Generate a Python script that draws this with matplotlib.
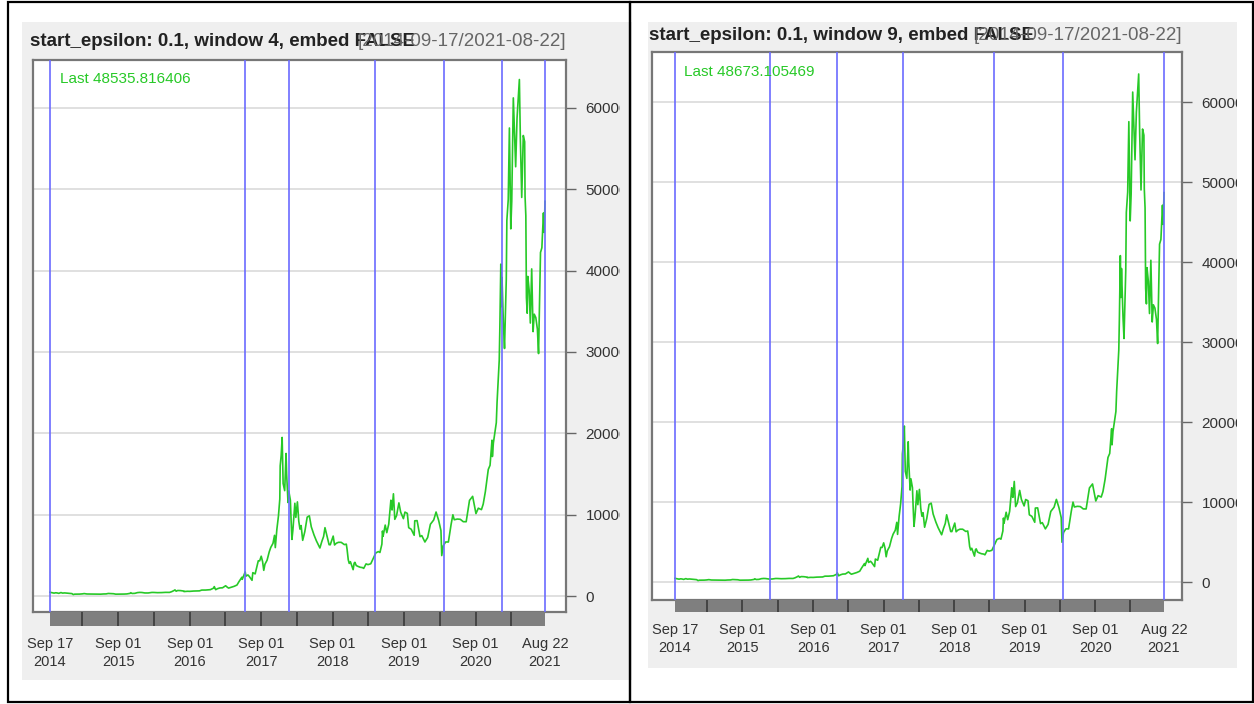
import pandas as pd
import matplotlib
matplotlib.use("Agg")
import matplotlib.pyplot as plt
import matplotlib.dates as mdates
from matplotlib.patches import Rectangle
from matplotlib.transforms import Bbox

plt.rcParams['font.family'] = ['Liberation Sans', 'DejaVu Sans']

# BTC-USD close (approximate)
price_dates = [
    "2014-09-17", "2014-09-24", "2014-10-01", "2014-10-08", "2014-10-15", "2014-10-22", "2014-11-01", "2014-11-12",
    "2014-11-20", "2014-12-01", "2014-12-15", "2014-12-31",
    "2015-01-07", "2015-01-14", "2015-01-21", "2015-02-01", "2015-02-15", "2015-03-01", "2015-03-11", "2015-03-25",
    "2015-04-08", "2015-04-22", "2015-05-06", "2015-05-20", "2015-06-03", "2015-06-17", "2015-07-01", "2015-07-12",
    "2015-07-25", "2015-08-08", "2015-08-19", "2015-09-01", "2015-09-15", "2015-10-01", "2015-10-15", "2015-11-01",
    "2015-11-04", "2015-11-11", "2015-11-25", "2015-12-08", "2015-12-20", "2015-12-31",
    "2016-01-15", "2016-02-01", "2016-02-20", "2016-03-01", "2016-03-20", "2016-04-10", "2016-04-30", "2016-05-20",
    "2016-05-31", "2016-06-12", "2016-06-17", "2016-06-23", "2016-07-01", "2016-07-15", "2016-08-01", "2016-08-02",
    "2016-08-20", "2016-09-01", "2016-09-20", "2016-10-01", "2016-10-20", "2016-11-01", "2016-11-20", "2016-12-01",
    "2016-12-15", "2016-12-31",
    "2017-01-04", "2017-01-11", "2017-01-20", "2017-02-01", "2017-02-15", "2017-03-03", "2017-03-10", "2017-03-18",
    "2017-03-31", "2017-04-15", "2017-04-30", "2017-05-10", "2017-05-25", "2017-05-27", "2017-06-11", "2017-06-15",
    "2017-06-25", "2017-07-01", "2017-07-16", "2017-07-20", "2017-08-01", "2017-08-08", "2017-08-17", "2017-08-24",
    "2017-09-01", "2017-09-08", "2017-09-14", "2017-09-20", "2017-10-01", "2017-10-12", "2017-10-20", "2017-10-31",
    "2017-11-08", "2017-11-12", "2017-11-20", "2017-11-28", "2017-12-05", "2017-12-07", "2017-12-12", "2017-12-17",
    "2017-12-22", "2017-12-30",
    "2018-01-06", "2018-01-09", "2018-01-16", "2018-01-20", "2018-01-28", "2018-02-01", "2018-02-05", "2018-02-10",
    "2018-02-20", "2018-02-25", "2018-03-05", "2018-03-12", "2018-03-18", "2018-03-24", "2018-04-01", "2018-04-12",
    "2018-04-24", "2018-05-05", "2018-05-15", "2018-05-29", "2018-06-10", "2018-06-24", "2018-06-28", "2018-07-08",
    "2018-07-17", "2018-07-24", "2018-08-01", "2018-08-14", "2018-08-20", "2018-09-04", "2018-09-11", "2018-09-20",
    "2018-10-01", "2018-10-15", "2018-10-31", "2018-11-10", "2018-11-14", "2018-11-20", "2018-11-25", "2018-12-01",
    "2018-12-15", "2018-12-20", "2018-12-24", "2018-12-31",
    "2019-01-10", "2019-01-20", "2019-02-01", "2019-02-07", "2019-02-19", "2019-03-01", "2019-03-15", "2019-04-02",
    "2019-04-10", "2019-04-23", "2019-05-01", "2019-05-11", "2019-05-14", "2019-05-17", "2019-05-28", "2019-06-05",
    "2019-06-15", "2019-06-26", "2019-06-27", "2019-07-02", "2019-07-09", "2019-07-16", "2019-07-25", "2019-08-06",
    "2019-08-15", "2019-08-29", "2019-09-06", "2019-09-18", "2019-09-25", "2019-10-08", "2019-10-23", "2019-10-26",
    "2019-11-07", "2019-11-22", "2019-12-01", "2019-12-17", "2019-12-31",
    "2020-01-14", "2020-01-31", "2020-02-12", "2020-02-25", "2020-03-08", "2020-03-12", "2020-03-20", "2020-04-01",
    "2020-04-15", "2020-04-29", "2020-05-08", "2020-05-15", "2020-05-31", "2020-06-15", "2020-06-30", "2020-07-15",
    "2020-07-27", "2020-08-01", "2020-08-17", "2020-09-03", "2020-09-15", "2020-10-01", "2020-10-10", "2020-10-21",
    "2020-11-05", "2020-11-14", "2020-11-24", "2020-11-26", "2020-12-01", "2020-12-16", "2020-12-20", "2020-12-31",
    "2021-01-03", "2021-01-08", "2021-01-11", "2021-01-14", "2021-01-22", "2021-01-27", "2021-02-05", "2021-02-08",
    "2021-02-15", "2021-02-21", "2021-02-28", "2021-03-05", "2021-03-13", "2021-03-18", "2021-03-25", "2021-04-01",
    "2021-04-13", "2021-04-18", "2021-04-25", "2021-05-03", "2021-05-10", "2021-05-12", "2021-05-16", "2021-05-19",
    "2021-05-23", "2021-05-26", "2021-06-02", "2021-06-08", "2021-06-15", "2021-06-22", "2021-06-28", "2021-07-06",
    "2021-07-14", "2021-07-20", "2021-07-26", "2021-07-30", "2021-08-06", "2021-08-14", "2021-08-18", "2021-08-22",
]
price_values = [
    457, 423, 383, 352, 395, 383, 325, 423, 357, 379, 347, 320,
    294, 178, 227, 226, 234, 260, 296, 247, 245, 234, 229, 234, 225, 249, 258, 310,
    289, 279, 226, 228, 230, 238, 255, 325, 403, 311, 328, 415, 442, 430,
    374, 373, 438, 435, 410, 420, 448, 442, 531, 672, 750, 590, 676, 664, 606, 547,
    581, 572, 609, 613, 630, 729, 731, 753, 780, 963,
    1154, 777, 896, 989, 1008, 1259, 1112, 971, 1071, 1185, 1348, 1757, 2304, 2052, 2958, 2443,
    2589, 2434, 1929, 2871, 2718, 3419, 4331, 4318, 4892, 4226, 3154, 3905, 4403, 5431, 5984, 6468,
    7459, 5951, 8201, 9818, 11916, 16007, 17277, 19497, 13831, 12952,
    17527, 14975, 11490, 12899, 11786, 9170, 6955, 8129, 11403, 9665, 11573, 9205, 8223, 8660, 6844, 7924,
    9697, 9858, 8504, 7502, 6786, 6083, 5904, 6712, 7321, 8401, 7605, 6308, 6300, 7366, 6276, 6487,
    6601, 6597, 6317, 6376, 5738, 4452, 4009, 4215, 3236, 4029, 4143, 3743,
    3628, 3535, 3487, 3397, 3947, 3859, 3960, 4880, 5300, 5464, 5350, 6377, 7990, 7343, 8719, 7787,
    8828, 11778, 11021, 10577, 12567, 9427, 9882, 11450, 10312, 9510, 10316, 10160, 8400, 8205, 7466, 9244,
    9267, 7297, 7424, 6640, 7193,
    8821, 9350, 10326, 9316, 8040, 4970, 6191, 6642, 6640, 8820, 9986, 9377, 9461, 9427, 9137, 9132,
    11029, 11758, 12254, 10131, 10795, 10619, 11296, 12823, 15565, 16068, 19157, 17150, 18803, 21310, 23869, 29001,
    32782, 40797, 35566, 39187, 33005, 30432, 38903, 46196, 48717, 57539, 45137, 48528, 61243, 57858, 52774, 58736,
    63503, 56216, 49004, 56620, 55847, 49150, 46760, 36700, 34770, 39294, 37575, 33560, 40218, 32505, 34649, 34235,
    32822, 29807, 37337, 42235, 42816, 47096, 44695, 48535,
]
last_left = 48535.816406
last_right = 48673.105469

# change points (blue lines)
breaks_w4 = ["2014-09-17", "2017-06-10", "2018-01-21", "2019-04-06", "2020-03-23", "2021-01-14", "2021-08-22"]
breaks_w9 = ["2014-09-17", "2016-01-22", "2017-01-03", "2017-12-10", "2019-03-26", "2020-03-17", "2021-08-22"]

label_dates = ["2014-09-17", "2015-09-01", "2016-09-01", "2017-09-01", "2018-09-01", "2019-09-01", "2020-09-01", "2021-08-22"]
label_text = ["Sep 17\n2014", "Sep 01\n2015", "Sep 01\n2016", "Sep 01\n2017", "Sep 01\n2018", "Sep 01\n2019",
              "Sep 01\n2020", "Aug 22\n2021"]
sep_dates = ["2015-03-01", "2015-09-01", "2016-03-01", "2016-09-01", "2017-03-01", "2017-09-01", "2018-03-01",
             "2018-09-01", "2019-03-01", "2019-09-01", "2020-03-01", "2020-09-01", "2021-03-01"]
y_ticks = [0, 10000, 20000, 30000, 40000, 50000, 60000]

GREEN = '#27c927'
BLUE = '#6b6bff'

W, H = 1254, 704
fig = plt.figure(figsize=(W / 100, H / 100), dpi=100)


def box(x0, y0, x1, y1):
    # pixel box (top-left origin) -> figure fraction
    return [x0 / W, 1 - y1 / H, (x1 - x0) / W, (y1 - y0) / H]


def rect(x0, y0, x1, y1, **kw):
    l, b, w, h = box(x0, y0, x1, y1)
    fig.add_artist(Rectangle((l, b), w, h, transform=fig.transFigure, **kw))


def ftext(x, y, s, **kw):
    fig.text(x / W, 1 - y / H, s, **kw)


dates = mdates.date2num(pd.to_datetime(price_dates))
d0 = mdates.date2num(pd.Timestamp(price_dates[0]))
d1 = mdates.date2num(pd.Timestamp(price_dates[-1]))


def panel(last, title, breaks, gray, frame, bar_h, start_px, end_px, y0_px, y60_px, title_y, last_xy, clip_x):
    rect(*gray, facecolor='#efefef', edgecolor='none', zorder=-5)
    fx0, fy0, fx1, fy1 = frame

    vals = list(price_values[:-1]) + [last]
    ax = fig.add_axes(box(*frame))
    ax.plot(dates, vals, color=GREEN, lw=1.2, zorder=3)
    for b in breaks:
        ax.axvline(mdates.date2num(pd.Timestamp(b)), color=BLUE, lw=1.2, zorder=4)

    # limits from pixel placement of first/last obs and of 0 / 60000
    dpp = (d1 - d0) / (end_px - start_px)
    ax.set_xlim(d0 - (start_px - fx0) * dpp, d1 + (fx1 - end_px) * dpp)
    vpp = 60000 / (y0_px - y60_px)
    ax.set_ylim(-(fy1 - y0_px) * vpp, 60000 + (y60_px - fy0) * vpp)

    ax.set_xticks([])
    ax.yaxis.tick_right()
    ax.set_yticks(y_ticks)
    ax.set_yticklabels([str(v) for v in y_ticks])
    ax.tick_params(axis='y', length=7.5, width=1, color='#666666', labelsize=11,
                   labelcolor='#333333', pad=6.5)
    # the device cuts the labels off at the panel edge
    for lab in ax.get_yticklabels():
        lab.set_clip_box(Bbox.from_extents(0, 0, clip_x, H))
        lab.set_clip_on(True)
    ax.grid(axis='y', color='#dddddd', lw=1.3, zorder=0)
    for s in ax.spines.values():
        s.set_color('#777777')
        s.set_linewidth(1.6)

    bx = fig.add_axes(box(fx0, fy1, fx1, fy1 + bar_h))
    bx.set_xlim(ax.get_xlim())
    bx.set_ylim(0, 1)
    bx.axvspan(d0, d1, color='#7f7f7f', lw=0)
    for s in sep_dates:
        bx.axvline(mdates.date2num(pd.Timestamp(s)), color='#3a3a3a', lw=1.2)
    bx.set_facecolor('none')
    for s in bx.spines.values():
        s.set_visible(False)
    bx.set_yticks([])
    bx.set_xticks(mdates.date2num(pd.to_datetime(label_dates)))
    bx.set_xticklabels(label_text, fontsize=10.5, color='#333333', linespacing=1.35)
    bx.tick_params(axis='x', length=0, pad=8)

    ftext(fx0 - 3, title_y, title, fontsize=13.5, fontweight='bold', color='#222222', va='center')
    ftext(fx1, title_y, "[2014-09-17/2021-08-22]", fontsize=13.5, color='#666666', va='center', ha='right')
    ftext(last_xy[0], last_xy[1], "Last %.6f" % last, fontsize=11, color=GREEN, va='center')


panel(last_left, "start_epsilon: 0.1, window 4, embed FALSE", breaks_w4,
      gray=(22, 22, 632, 680), frame=(33, 60, 566, 612), bar_h=14,
      start_px=50, end_px=545, y0_px=596, y60_px=108, title_y=42, last_xy=(60, 79), clip_x=620)
panel(last_right, "start_epsilon: 0.1, window 9, embed FALSE", breaks_w9,
      gray=(648, 22, 1237, 668), frame=(652, 52, 1182, 600), bar_h=12,
      start_px=675, end_px=1164, y0_px=582, y60_px=102, title_y=36, last_xy=(684, 72), clip_x=1237)

# white gaps between the panels, then the black frames
rect(632, 4, 648, 700, facecolor='white', edgecolor='none', zorder=5)
rect(1237, 4, 1252, 700, facecolor='white', edgecolor='none', zorder=5)
rect(8, 2, 630, 702, facecolor='none', edgecolor='black', lw=1.6, zorder=6)
rect(630, 2, 1253, 702, facecolor='none', edgecolor='black', lw=1.6, zorder=6)

fig.savefig("out.png", dpi=100)
